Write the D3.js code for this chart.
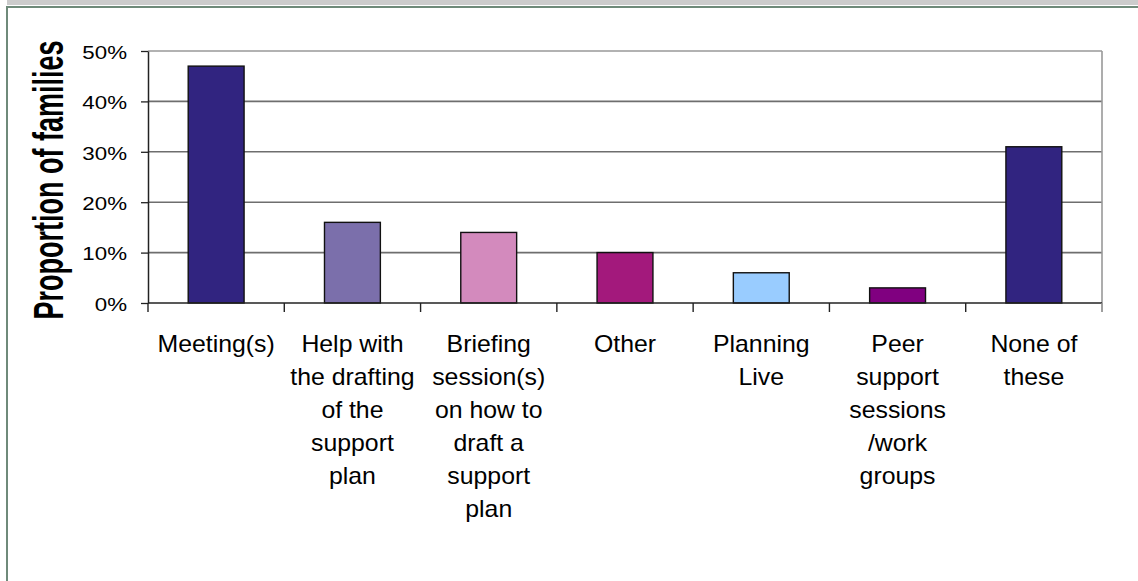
<!DOCTYPE html>
<html>
<head>
<meta charset="utf-8">
<script src="https://cdn.jsdelivr.net/npm/d3@7"></script>
<style>
  html, body { margin: 0; padding: 0; background: #ffffff; }
  svg { display: block; }
  text { font-family: "Liberation Sans", Arial, sans-serif; fill: #000; }
</style>
</head>
<body>
<svg id="chart" width="1138" height="581"></svg>
<script>
// Support received by families, share of respondents per type
const categories = ["Meeting(s)", "Help with the drafting of the support plan",
  "Briefing session(s) on how to draft a support plan", "Other", "Planning Live",
  "Peer support sessions /work groups", "None of these"];
const categoryLines = [
  ["Meeting(s)"],
  ["Help with", "the drafting", "of the", "support", "plan"],
  ["Briefing", "session(s)", "on how to", "draft a", "support", "plan"],
  ["Other"],
  ["Planning", "Live"],
  ["Peer", "support", "sessions", "/work", "groups"],
  ["None of", "these"]
];
const values = [0.47, 0.16, 0.14, 0.10, 0.06, 0.03, 0.31];
const barColors = ["#312480", "#7b6fab", "#d38abd", "#a3197c", "#99ccff", "#800080", "#312480"];
const yTicks = [0, 0.1, 0.2, 0.3, 0.4, 0.5];
const yTitle = "Proportion of families";

const svg = d3.select("#chart");
const W = 1138, H = 581;
const plot = { left: 148, right: 1102, top: 51, bottom: 303 };

// frame around the chart
svg.append("rect").attr("x", 7).attr("y", 0).attr("width", W - 7).attr("height", 5).attr("fill", "#cccccc");
svg.append("rect").attr("x", 6).attr("y", 6).attr("width", W - 6).attr("height", 2).attr("fill", "#6f8a7a");
svg.append("rect").attr("x", 6).attr("y", 6).attr("width", 2).attr("height", H - 6).attr("fill", "#6f8a7a");

const x = d3.scaleBand().domain(categories).range([plot.left, plot.right])
  .paddingInner(0.59).paddingOuter(0.295);
const y = d3.scaleLinear().domain([0, 0.5]).range([plot.bottom, plot.top]);

// horizontal gridlines
svg.append("g").selectAll("line").data(yTicks.filter(d => d > 0)).join("line")
  .attr("x1", plot.left).attr("x2", plot.right)
  .attr("y1", d => y(d)).attr("y2", d => y(d))
  .attr("stroke", d => d === 0.5 ? "#999999" : "#6e6e6e").attr("stroke-width", 1.6);

// right border of plot area
svg.append("line").attr("x1", plot.right).attr("x2", plot.right)
  .attr("y1", plot.top).attr("y2", plot.bottom + 9)
  .attr("stroke", "#999999").attr("stroke-width", 1.6);

// bars
svg.append("g").selectAll("rect").data(values).join("rect")
  .attr("x", (d, i) => x(categories[i]))
  .attr("y", d => y(d))
  .attr("width", x.bandwidth())
  .attr("height", d => y(0) - y(d))
  .attr("fill", (d, i) => barColors[i])
  .attr("stroke", "#111111").attr("stroke-width", 1.4);

// y axis
const yAxis = svg.append("g").attr("transform", `translate(${plot.left},0)`)
  .call(d3.axisLeft(y).tickValues(yTicks).tickFormat(d3.format(".0%")).tickSize(7).tickSizeOuter(0));
yAxis.attr("font-size", null).attr("font-family", null);
yAxis.select(".domain").attr("stroke", "#222").attr("stroke-width", 1.5);
yAxis.selectAll(".tick line").attr("stroke", "#222").attr("stroke-width", 1.3);
yAxis.selectAll(".tick text")
  .style("font-size", "18px").attr("x", 0).attr("dy", null).attr("y", 7)
  .attr("text-anchor", "end")
  .attr("transform", "translate(-21,0) scale(1.24,1.05)");

// x axis baseline with category separators
svg.append("line").attr("x1", plot.left).attr("x2", plot.right)
  .attr("y1", plot.bottom).attr("y2", plot.bottom)
  .attr("stroke", "#222").attr("stroke-width", 1.5);
svg.append("g").selectAll("line").data(d3.range(categories.length + 1)).join("line")
  .attr("x1", i => plot.left + i * x.step()).attr("x2", i => plot.left + i * x.step())
  .attr("y1", plot.bottom).attr("y2", plot.bottom + 9)
  .attr("stroke", i => i === categories.length ? "#999999" : "#222").attr("stroke-width", 1.4);

// category labels
const lab = svg.append("g").selectAll("g").data(categories).join("g")
  .attr("transform", (c) => `translate(${x(c) + x.bandwidth() / 2},0) scale(1.08,1)`);
lab.each(function (c, i) {
  d3.select(this).selectAll("text").data(categoryLines[i]).join("text")
    .attr("x", 0).attr("y", (d, j) => 352 + j * 33)
    .attr("text-anchor", "middle").style("font-size", "23px")
    .text(d => d);
});

// y axis title
svg.append("text")
  .attr("transform", `translate(63,${(plot.top + plot.bottom) / 2 + 3}) rotate(-90) scale(1,1.55)`)
  .attr("text-anchor", "middle").style("font-size", "27px").attr("font-weight", "bold")
  .text(yTitle);
</script>
</body>
</html>
